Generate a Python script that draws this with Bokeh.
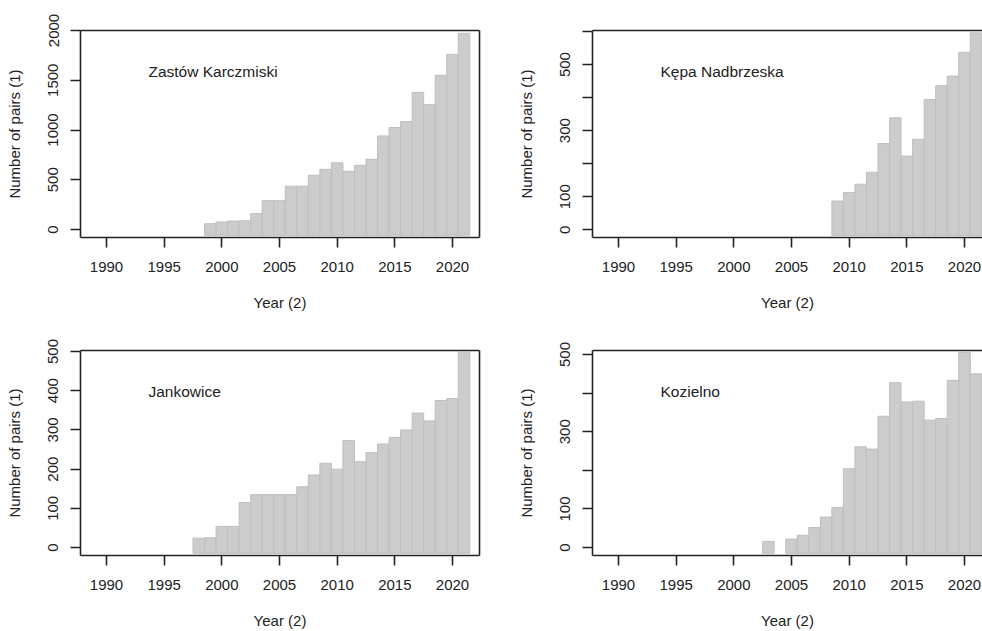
from bokeh.plotting import figure
from bokeh.models import Range1d, FixedTicker, LinearAxis, Label
from bokeh.layouts import column, row
from bokeh.embed import file_html
from bokeh.resources import INLINE

FONT = "Liberation Sans"
INK = "#222222"

# ---------------- data ----------------
x_ticks = [1990, 1995, 2000, 2005, 2010, 2015, 2020]

zk_name = "Zastów Karczmiski"
zk_years = [1999, 2000, 2001, 2002, 2003, 2004, 2005, 2006, 2007, 2008, 2009, 2010,
            2011, 2012, 2013, 2014, 2015, 2016, 2017, 2018, 2019, 2020, 2021]
zk_pairs = [58, 75, 85, 88, 160, 290, 290, 435, 435, 545, 605, 670,
            585, 645, 705, 940, 1025, 1085, 1378, 1255, 1550, 1760, 1972]
zk_yticks = [0, 500, 1000, 1500, 2000]
zk_yhidden = []

kn_name = "Kępa Nadbrzeska"
kn_years = [2009, 2010, 2011, 2012, 2013, 2014, 2015, 2016, 2017, 2018, 2019, 2020, 2021]
kn_pairs = [87, 113, 138, 174, 261, 339, 223, 274, 394, 436, 465, 537, 596]
kn_yticks = [0, 100, 200, 300, 400, 500, 600]
kn_yhidden = [200, 400, 600]

jk_name = "Jankowice"
jk_years = [1998, 1999, 2000, 2001, 2002, 2003, 2004, 2005, 2006, 2007, 2008, 2009,
            2010, 2011, 2012, 2013, 2014, 2015, 2016, 2017, 2018, 2019, 2020, 2021]
jk_pairs = [24, 25, 54, 54, 115, 135, 135, 135, 135, 155, 185, 215,
            200, 273, 219, 242, 264, 281, 300, 343, 323, 375, 380, 498]
jk_yticks = [0, 100, 200, 300, 400, 500]
jk_yhidden = []

kz_name = "Kozielno"
kz_years = [2003, 2005, 2006, 2007, 2008, 2009, 2010, 2011, 2012, 2013, 2014, 2015,
            2016, 2017, 2018, 2019, 2020, 2021]
kz_pairs = [16, 22, 32, 52, 79, 104, 204, 261, 255, 340, 427, 377,
            379, 330, 334, 433, 505, 450]
kz_yticks = [0, 100, 200, 300, 400, 500]
kz_yhidden = [200, 400]

# ---------------- layout constants ----------------
X_START = 1987.746
X_END_LEFT = 2022.342
X_END_RIGHT = 2021.56


def make_panel(name, years, pairs, yticks, yhidden, y_start, y_end,
               width, x_end, min_right, height, min_top, min_bottom, right_border):
    p = figure(width=width, height=height, output_backend="svg", toolbar_location=None,
               x_range=Range1d(X_START, x_end), y_range=Range1d(y_start, y_end),
               min_border_left=80, min_border_right=min_right,
               min_border_top=min_top, min_border_bottom=min_bottom,
               x_axis_label="Year (2)", y_axis_label="Number of pairs (1)")
    p.outline_line_color = None
    p.xgrid.grid_line_color = None
    p.ygrid.grid_line_color = None
    p.background_fill_color = "white"
    p.border_fill_color = "white"

    base = y_start * 0.72
    p.quad(left=[y - 0.5 for y in years], right=[y + 0.5 for y in years],
           top=pairs, bottom=base, fill_color="#cccccc", line_color="#bfbfbf",
           line_width=1)

    for ax in (p.xaxis[0], p.yaxis[0]):
        ax.axis_line_color = INK
        ax.axis_line_width = 1.6
        ax.major_tick_line_color = INK
        ax.major_tick_line_width = 1.6
        ax.major_tick_out = 10
        ax.major_tick_in = 0
        ax.minor_tick_line_color = None
        ax.major_label_text_font = FONT
        ax.major_label_text_font_size = "15px"
        ax.major_label_text_color = INK
        ax.axis_label_text_font = FONT
        ax.axis_label_text_font_size = "15px"
        ax.axis_label_text_font_style = "normal"
        ax.axis_label_text_color = INK

    p.xaxis[0].ticker = FixedTicker(ticks=x_ticks)
    p.xaxis[0].major_label_standoff = 14
    p.xaxis[0].axis_label_standoff = 19

    p.yaxis[0].ticker = FixedTicker(ticks=yticks)
    p.yaxis[0].major_label_orientation = "vertical"
    p.yaxis[0].major_label_standoff = 12
    p.yaxis[0].axis_label_standoff = 23
    p.yaxis[0].major_label_overrides = {t: "" for t in yhidden}

    top = LinearAxis(ticker=FixedTicker(ticks=[]), axis_line_color=INK,
                     axis_line_width=1.6, major_tick_out=0, major_tick_in=0,
                     minor_tick_line_color=None, major_label_text_font_size="0px")
    p.add_layout(top, "above")
    if right_border:
        rgt = LinearAxis(ticker=FixedTicker(ticks=[]), axis_line_color=INK,
                         axis_line_width=1.6, major_tick_out=0, major_tick_in=0,
                         minor_tick_line_color=None, major_label_text_font_size="0px")
        p.add_layout(rgt, "right")

    lab_y = y_end - 0.198 * (y_end - y_start)
    p.add_layout(Label(x=1993.64, y=lab_y, text=name, text_align="left",
                       text_baseline="middle", text_font=FONT,
                       text_font_size="15.5px", text_color=INK))
    return p


p1 = make_panel(zk_name, zk_years, zk_pairs, zk_yticks, zk_yhidden, -80.4, 2000,
                512, X_END_LEFT, 33, 328, 30, 91, True)
p2 = make_panel(kn_name, kn_years, kn_pairs, kn_yticks, kn_yhidden, -23.2, 603,
                470, X_END_RIGHT, 0, 328, 30, 91, False)
p3 = make_panel(jk_name, jk_years, jk_pairs, jk_yticks, jk_yhidden, -20.2, 502.5,
                512, X_END_LEFT, 33, 303, 22, 74, True)
p4 = make_panel(kz_name, kz_years, kz_pairs, kz_yticks, kz_yhidden, -20.5, 510.3,
                470, X_END_RIGHT, 0, 303, 22, 74, False)

layout = column(row(p1, p2, spacing=0), row(p3, p4, spacing=0), spacing=0)

with open("out.html", "w") as f:
    f.write(file_html(layout, INLINE))
